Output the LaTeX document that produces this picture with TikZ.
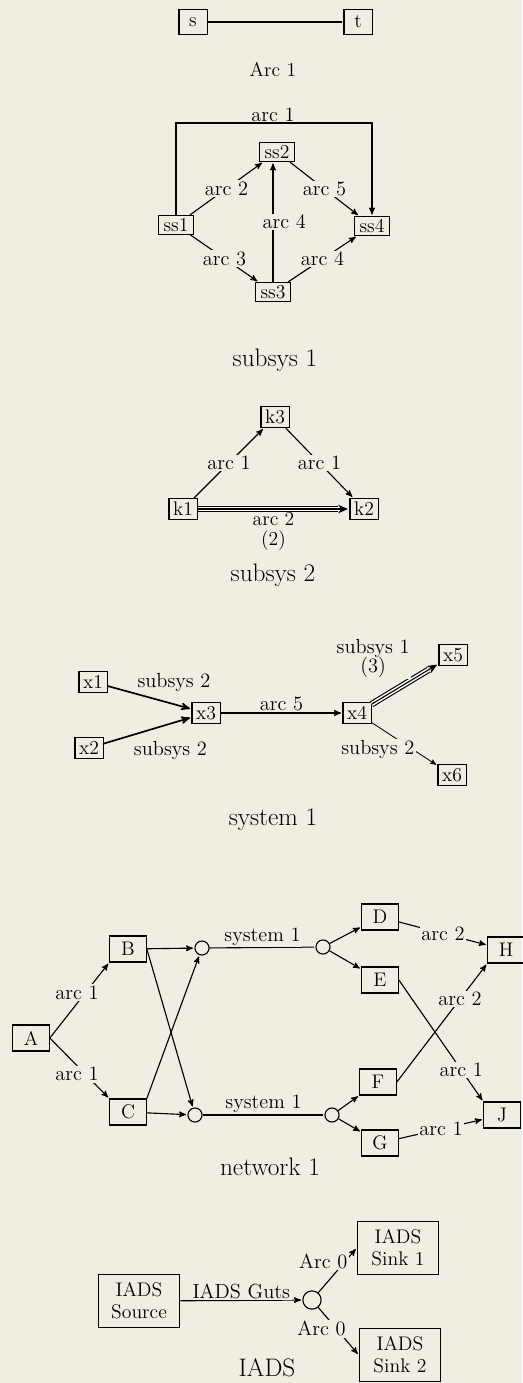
\documentclass[tikz,border=0pt]{standalone}
\usepackage{fontspec}
\usepackage{tikz}
\usetikzlibrary{arrows, arrows.meta}

\definecolor{paper}{RGB}{240,237,226}

\begin{document}
\begin{tikzpicture}[->, >=stealth', shorten >=1pt, thick, x=0.025cm, y=-0.025cm,
		box/.style={draw, rectangle, inner sep=1pt, font=\fontsize{14}{15}\selectfont},
		sq/.style={box, minimum width=20pt, minimum height=18pt},
		ss/.style={box, minimum width=25pt, minimum height=13.5pt},
		kx/.style={box, minimum width=20pt, minimum height=15pt},
		net/.style={box, minimum width=26pt, minimum height=18.5pt},
		iads/.style={box, align=center, minimum width=58pt, minimum height=38pt, font=\fontsize{14}{15.5}\selectfont},
		junc/.style={draw, circle, inner sep=0pt, minimum size=10pt},
		multi/.style={-{Stealth[length=7pt, width=6pt]}},
		lbl/.style={fill=paper, inner sep=1pt, font=\fontsize{14.5}{15}\selectfont},
		ttl/.style={font=\fontsize{18}{20}\selectfont}]
		\fill[paper] (0,0) rectangle (522,1383);
		\useasboundingbox (0,0) rectangle (522,1383);

		% Arc 1
		\node[sq] (s) at (193,22) {s};
		\node[sq] (t) at (358,22) {t};
		\draw[-] (s) -- (t);
		\node[ttl, font=\fontsize{14}{16}\selectfont] (arc1) at (273,70) {Arc 1};

		% subsys 1
		\node[ss] (ss1) at (176,225) {ss1};
		\node[ss] (ss2) at (277,152) {ss2};
		\node[ss] (ss3) at (273,292) {ss3};
		\node[ss] (ss4) at (372,226) {ss4};
		\coordinate (top1) at (273,123);
		\draw (ss1.north) |- (top1) node[lbl, above, inner sep=0.5pt] {arc 1} -| (ss4.north);
		\path (ss1) edge node[lbl] {arc 2} (ss2)
			(ss1) edge node[lbl] {arc 3} (ss3)
			(ss3.north) edge node[lbl, xshift=8pt] {arc 4} (ss3 |- ss2.south)
			(ss2) edge node[lbl] {arc 5} (ss4)
			(ss3) edge node[lbl] {arc 4} (ss4);
		\node[ttl] (sub1) at (275,360) {subsys 1};

		% subsys 2
		\node[kx] (k1) at (183,509) {k1};
		\node[kx] (k2) at (364,509) {k2};
		\node[kx] (k3) at (275,417) {k3};
		\path (k1) edge node[lbl] {arc 1} (k3)
			(k3) edge node[lbl] {arc 1} (k2);
		\draw[-, double, double distance=2.5pt, shorten >=8pt] (k1) -- (k2);
		\draw[multi] (k1) -- node[lbl, below=2pt, align=center, inner sep=0pt, font=\fontsize{14}{14}\selectfont] {arc 2\\(2)} (k2);
		\node[ttl] (sub2) at (273,575) {subsys 2};

		% system 1
		\node[kx] (x1) at (93,682) {x1};
		\node[kx] (x2) at (89,748) {x2};
		\node[kx] (x3) at (206,713) {x3};
		\node[kx] (x4) at (357,713) {x4};
		\node[kx] (x5) at (453,655) {x5};
		\node[kx] (x6) at (452,775) {x6};
		\path (x1) edge[very thick] node[lbl, pos=0.33, anchor=south west] {subsys 2} (x3)
			(x2) edge[very thick] node[lbl, pos=0.32, anchor=north west, yshift=-3pt] {subsys 2} (x3)
			(x3) edge node[lbl, above] {arc 5} (x4)
			(x4) edge[semithick] node[lbl, xshift=-19pt, yshift=-4pt] {subsys 2} (x6);
		\draw[-, double, double distance=3pt, shorten >=8pt] (x4) -- (x5);
		\draw[multi] (x4) -- node[lbl, pos=0.6, above left, align=center, font=\fontsize{14.5}{14}\selectfont] {subsys 1\\(3)} (x5);
		\node[ttl] (sys1) at (273,820) {system 1};

		% network 1
		\node[net] (A) at (31,1038) {A};
		\node[net] (B) at (128,949) {B};
		\node[net] (C) at (128,1112) {C};
		\node[net] (D) at (380,917) {D};
		\node[net] (E) at (380,980) {E};
		\node[net] (F) at (378,1082) {F};
		\node[net] (G) at (380,1143) {G};
		\node[net] (H) at (506,950) {H};
		\node[net] (J) at (502,1115) {J};
		\node[junc] (j1) at (202,948) {};
		\node[junc] (j2) at (323,947) {};
		\node[junc] (j3) at (195,1115) {};
		\node[junc] (j4) at (332,1115) {};
		\path (A.east) edge node[lbl, pos=0.6, xshift=-6pt] {arc 1} (B.south west)
			(A.east) edge node[lbl, pos=0.6, xshift=-6pt] {arc 1} (C.north west)
			(B) edge (j1)
			(B.east) edge (j3)
			(C) edge (j3)
			(C.north east) edge (j1)
			(j1) edge[-] node[lbl, above] {system 1} (j2)
			(j2) edge (D)
			(j2) edge (E)
			(j3) edge[-] node[lbl, above] {system 1} (j4)
			(j4) edge (F)
			(j4) edge (G)
			(D) edge node[lbl] {arc 2} (H)
			(F.east) edge node[lbl, pos=0.7] {arc 2} (H.south west)
			(E.east) edge node[lbl, pos=0.74] {arc 1} (J.north west)
			(G) edge node[lbl] {arc 1} (J);
		\node[ttl] (net1) at (270,1167) {network 1};

		% IADS
		\node[iads] (src) at (139,1301) {IADS\\Source};
		\node[iads] (snk1) at (398,1248) {IADS\\Sink 1};
		\node[iads] (snk2) at (400,1355) {IADS\\Sink 2};
		\node[junc, minimum size=13pt] (jg) at (312,1300) {};
		\path (src) edge node[lbl, above] {IADS Guts} (jg)
			(jg) edge node[lbl, pos=0.7, anchor=east, xshift=3pt] {Arc 0} (snk1.west)
			(jg) edge node[lbl, pos=0.45, anchor=east, xshift=8pt] {Arc 0} (snk2.west);
		\node[ttl] (iadscap) at (267,1368) {IADS};
	\end{tikzpicture}
\end{document}
